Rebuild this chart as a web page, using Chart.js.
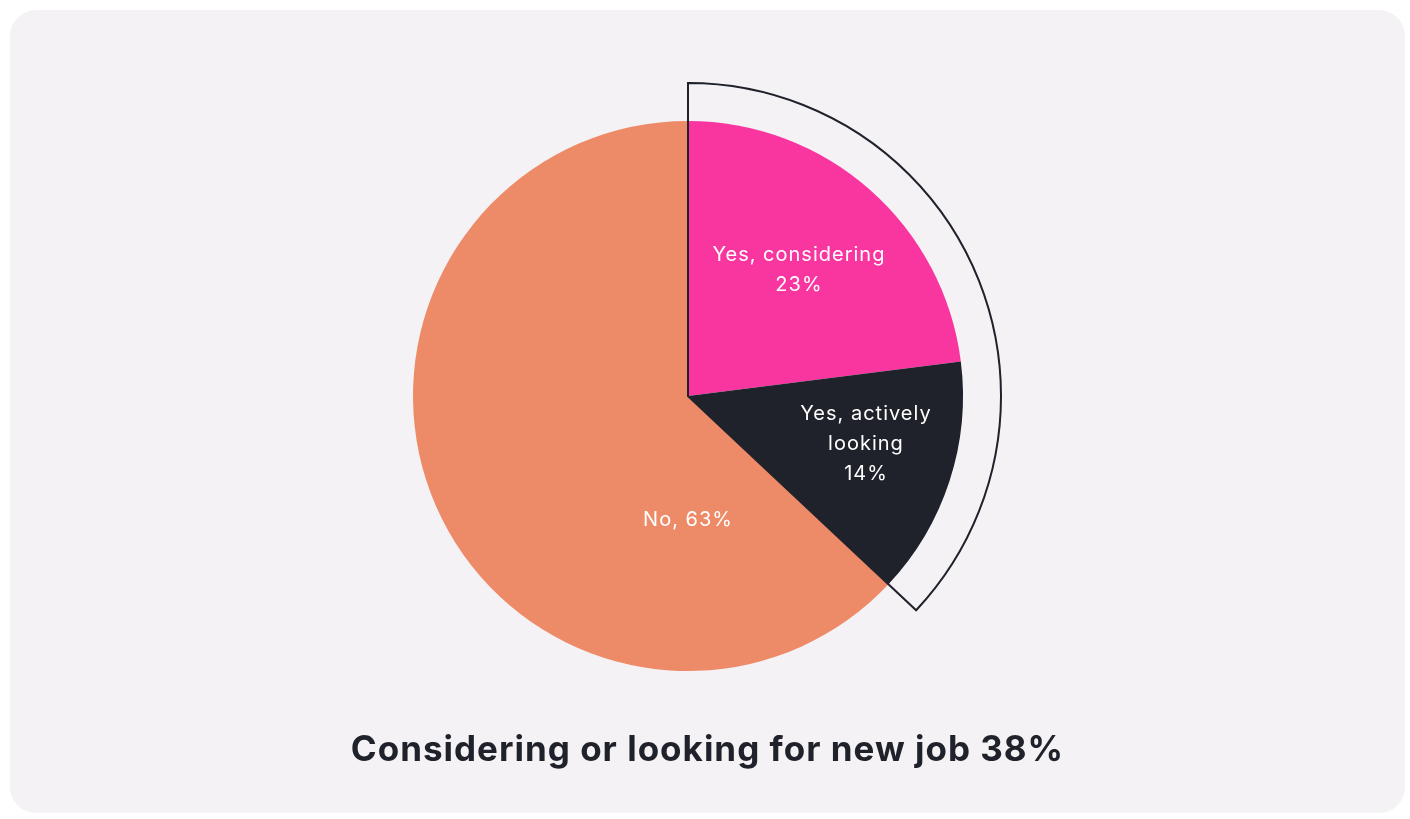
<!DOCTYPE html>
<html>
<head>
<meta charset="utf-8">
<title>Considering or looking for new job</title>
<script src="https://cdn.jsdelivr.net/npm/chart.js@4.4.1/dist/chart.umd.min.js"></script>
<style>
  html, body { margin: 0; padding: 0; background: #ffffff; }
  .card {
    position: absolute; left: 10px; top: 10px; width: 1395px; height: 803px;
    background: #f4f2f5; border-radius: 26px;
  }
  .chart-box { position: absolute; left: 0; top: 0; width: 1410px; height: 819px; }
  .chart-title {
    position: absolute; left: 10px; width: 1395px; top: 728px;
    margin: 0; text-align: center; line-height: 40px;
    font-family: Inter, sans-serif; font-weight: 700; font-size: 35px;
    letter-spacing: 1px; color: #1f212b;
  }
</style>
</head>
<body>
<div class="card"></div>
<div class="chart-box"><canvas id="chart-job"></canvas></div>
<h1 class="chart-title" id="chart-title"></h1>
<script>
// answers and their shares (%)
var categories = ['Yes, considering', 'Yes, actively looking', 'No'];
var shares = [23, 14, 63];
var sliceLabels = [['Yes, considering', '23%'], ['Yes, actively', 'looking', '14%'], ['No, 63%']];
var titleText = 'Considering or looking for new job 38%';

var colors = ['#f936a0', '#1f212b', '#ed8a68'];

// where each label sits: fraction of radius, optional fixed angle (deg from top)
var labelPlace = [{ frac: 0.61 }, { frac: 0.67, angle: 105 }, { frac: 0.45, angle: 180 }];

document.getElementById('chart-title').textContent = titleText;

// outline around the two "yes" slices
var yesOutline = {
  id: 'yesOutline',
  afterDatasetsDraw: function (chart) {
    var arcs = chart.getDatasetMeta(0).data;
    var first = arcs[0], second = arcs[1];
    var ctx = chart.ctx;
    var r = first.outerRadius + 38;
    ctx.save();
    ctx.beginPath();
    ctx.moveTo(first.x, first.y);
    ctx.lineTo(first.x + r * Math.cos(first.startAngle), first.y + r * Math.sin(first.startAngle));
    ctx.arc(first.x, first.y, r, first.startAngle, second.endAngle);
    ctx.closePath();
    ctx.lineWidth = 2;
    ctx.strokeStyle = '#1f212b';
    ctx.lineJoin = 'miter';
    ctx.stroke();
    ctx.restore();
  }
};

// text inside the slices
var sliceText = {
  id: 'sliceText',
  afterDatasetsDraw: function (chart) {
    var arcs = chart.getDatasetMeta(0).data;
    var ctx = chart.ctx;
    ctx.save();
    ctx.fillStyle = '#ffffff';
    ctx.font = '400 20px Inter';
    ctx.letterSpacing = '1px';
    ctx.textAlign = 'center';
    ctx.textBaseline = 'middle';
    arcs.forEach(function (arc, i) {
      var p = labelPlace[i];
      var a = p.angle !== undefined ? (p.angle - 90) * Math.PI / 180 : (arc.startAngle + arc.endAngle) / 2;
      var r = arc.outerRadius * p.frac;
      var cx = arc.x + r * Math.cos(a);
      var cy = arc.y + r * Math.sin(a);
      var lines = sliceLabels[i];
      var lh = 30;
      lines.forEach(function (t, k) {
        ctx.fillText(t, cx, cy + (k - (lines.length - 1) / 2) * lh);
      });
    });
    ctx.restore();
  }
};

var ctx = document.getElementById('chart-job').getContext('2d');
var myChart = new Chart(ctx, {
  type: 'pie',
  data: {
    labels: categories,
    datasets: [{
      data: shares,
      backgroundColor: colors,
      borderWidth: 0,
      hoverOffset: 0
    }]
  },
  options: {
    responsive: true,
    maintainAspectRatio: false,
    animation: false,
    layout: { padding: { left: 413, right: 447, top: 121, bottom: 148 } },
    plugins: {
      legend: { display: false },
      tooltip: { enabled: false },
      title: { display: false }
    }
  },
  plugins: [yesOutline, sliceText]
});
</script>
</body>
</html>
